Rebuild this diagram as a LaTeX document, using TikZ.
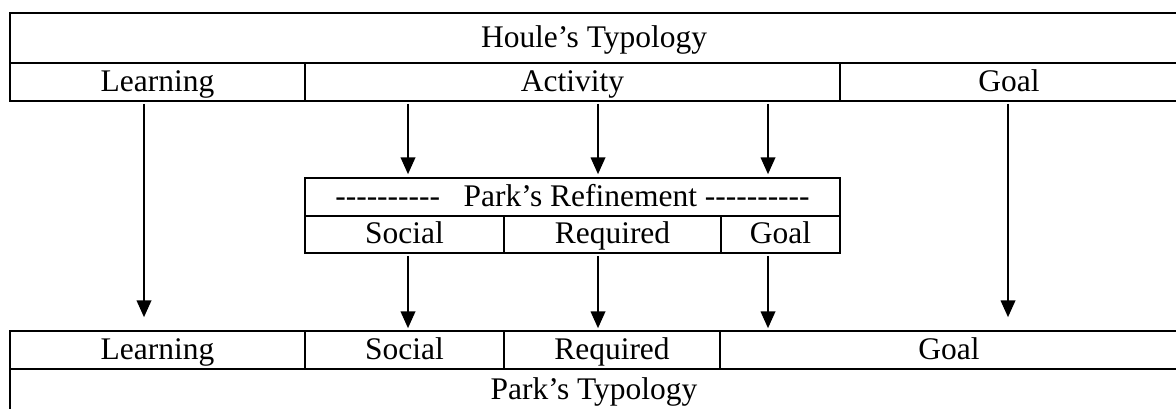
\documentclass[tikz,border=0pt]{standalone}
\usepackage{fontspec}
\setmainfont{Liberation Serif}
\usetikzlibrary{arrows.meta}

% ten plain hyphens, kept apart so they do not turn into dashes
\newcommand{\hyrun}{-\kern0pt-\kern0pt-\kern0pt-\kern0pt-\kern0pt-\kern0pt-\kern0pt-\kern0pt-\kern0pt-}

\tikzset{every picture/.style={line width=0.75pt}}
\tikzset{
  cell/.style={draw, line width=1.3pt, inner sep=0pt, text height=16pt, text depth=2pt,
    font=\fontsize{23.6}{28}\selectfont},
  cellsize/.style 2 args={minimum width=#1*0.75pt, minimum height=#2*0.75pt},
  flow/.style={-{Triangle[width=11pt,length=12.5pt]}, line width=1pt, shorten <=1.5pt}
}

\begin{document}
\begin{tikzpicture}[x=0.75pt,y=0.75pt,yscale=-1,xscale=1]
  \useasboundingbox (0,0) rectangle (1176,408);

  %Shape: Houle's table
  \node[cell, cellsize={1168}{50}] (houle) at (594,38) {Houle’s Typology};
  \node[cell, cellsize={295}{38}] (hLearn) at (157.5,82) {Learning};
  \node[cell, cellsize={535}{38}] (hAct) at (572.5,82) {Activity};
  \node[cell, cellsize={338}{38}] (hGoal) at (1009,82) {Goal};

  %Shape: Park's refinement
  \node[cell, cellsize={535}{38}] (refine) at (572.5,197) {\hyrun\ \ \ Park’s Refinement \hyrun};
  \node[cell, cellsize={199}{37}] (rSocial) at (404.5,234.5) {Social};
  \node[cell, cellsize={217}{37}] (rReq) at (612.5,234.5) {Required};
  \node[cell, cellsize={119}{37}] (rGoal) at (780.5,234.5) {Goal};

  %Shape: Park's table
  \node[cell, cellsize={295}{38}] (pLearn) at (157.5,350) {Learning};
  \node[cell, cellsize={199}{38}] (pSocial) at (404.5,350) {Social};
  \node[cell, cellsize={216}{38}] (pReq) at (612,350) {Required};
  \node[cell, cellsize={458}{38}] (pGoal) at (949,350) {Goal};
  \node[cell, cellsize={1168}{50}, text depth=8pt] (park) at (594,394) {Park’s Typology};

  % arrow columns
  \coordinate (learnX) at (144,0);
  \coordinate (socialX) at (408,0);
  \coordinate (reqX) at (598,0);
  \coordinate (goalX) at (768,0);
  \coordinate (farX) at (1008,0);

  %Straight Lines: Houle to refinement
  \draw[flow, shorten >=2.25pt] (socialX |- hAct.south) -- (socialX |- refine.north);
  \draw[flow, shorten >=2.25pt] (reqX |- hAct.south) -- (reqX |- refine.north);
  \draw[flow, shorten >=2.25pt] (goalX |- hAct.south) -- (goalX |- refine.north);

  %Straight Lines: refinement to Park
  \draw[flow, shorten >=1.5pt] (socialX |- rSocial.south) -- (socialX |- pSocial.north);
  \draw[flow, shorten >=1.5pt] (reqX |- rReq.south) -- (reqX |- pReq.north);
  \draw[flow, shorten >=1.5pt] (goalX |- rGoal.south) -- (goalX |- pGoal.north);

  %Straight Lines: straight through
  \draw[flow, shorten >=9.75pt] (learnX |- hLearn.south) -- (learnX |- pLearn.north);
  \draw[flow, shorten >=9.75pt] (farX |- hGoal.south) -- (farX |- pGoal.north);

\end{tikzpicture}
\end{document}
